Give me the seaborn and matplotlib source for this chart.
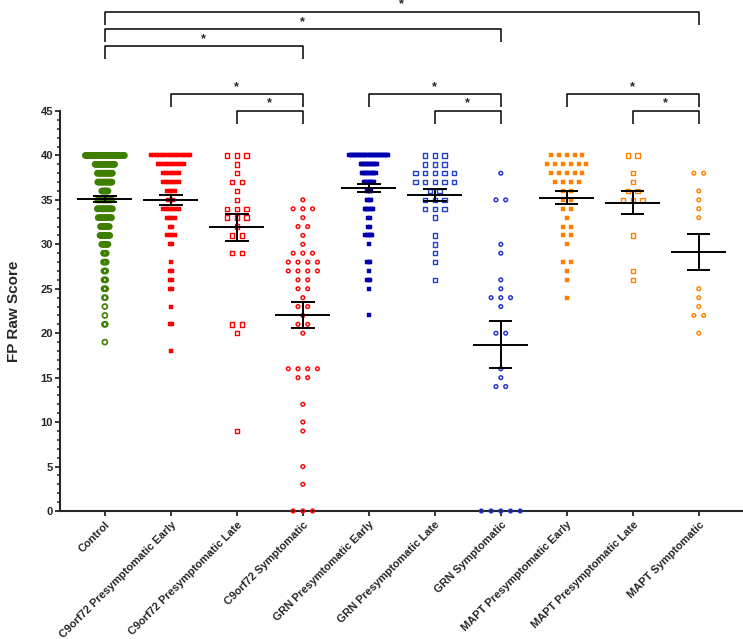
import numpy as np
import pandas as pd
import matplotlib.pyplot as plt
from matplotlib.markers import MarkerStyle
from matplotlib.ticker import MultipleLocator
import seaborn as sns

# group names as printed on the x axis (typo kept from the source figure)
groups = ['Control', 'C9orf72 Presymptomatic Early', 'C9orf72 Presymptomatic Late',
          'C9orf72 Symptomatic', 'GRN Presymtomatic Early', 'GRN Presymptomatic Late',
          'GRN Symptomatic', 'MAPT Presymptomatic Early', 'MAPT Presymptomatic Late',
          'MAPT Symptomatic']

# FP raw scores (score value -> number of subjects)
control_scores = [40, 39, 38, 37, 36, 35, 34, 33, 32, 31, 30, 29, 28, 27, 26, 25, 24, 23, 22, 21, 19]
control_counts = [45, 23, 18, 17, 8, 17, 18, 16, 11, 12, 8, 4, 4, 3, 3, 3, 2, 1, 1, 2, 1]

c9_early_scores = [40, 39, 38, 37, 36, 35, 34, 33, 32, 31, 30, 28, 27, 26, 25, 23, 21, 18]
c9_early_counts = [16, 11, 7, 7, 4, 3, 7, 4, 2, 4, 2, 1, 2, 2, 2, 1, 2, 1]

c9_late_scores = [40, 39, 38, 37, 36, 35, 34, 33, 32, 31, 29, 21, 20, 9]
c9_late_counts = [3, 1, 1, 2, 1, 1, 3, 3, 1, 2, 2, 2, 1, 1]

c9_symp_scores = [35, 34, 33, 32, 31, 30, 29, 28, 27, 26, 25, 24, 23, 22, 21, 20, 16, 15, 12, 10, 9, 5, 3, 0]
c9_symp_counts = [1, 3, 1, 2, 1, 1, 3, 4, 4, 2, 2, 1, 2, 1, 2, 1, 4, 2, 1, 1, 1, 1, 1, 3]

grn_early_scores = [40, 39, 38, 37, 36, 35, 34, 33, 32, 31, 30, 28, 27, 26, 25, 22]
grn_early_counts = [30, 13, 11, 8, 4, 4, 7, 2, 2, 6, 1, 3, 1, 3, 1, 1]

grn_late_scores = [40, 39, 38, 37, 36, 35, 34, 33, 31, 30, 29, 28, 26]
grn_late_counts = [3, 3, 5, 5, 2, 3, 3, 1, 1, 1, 1, 1, 1]

grn_symp_scores = [38, 35, 30, 29, 26, 25, 24, 23, 20, 16, 15, 14, 0]
grn_symp_counts = [1, 2, 1, 1, 1, 1, 3, 1, 2, 1, 1, 2, 5]

mapt_early_scores = [40, 39, 38, 37, 36, 35, 34, 33, 32, 31, 30, 28, 27, 26, 24]
mapt_early_counts = [5, 6, 5, 4, 2, 2, 2, 1, 2, 2, 1, 2, 1, 1, 1]

mapt_late_scores = [40, 38, 37, 36, 35, 31, 27, 26]
mapt_late_counts = [2, 1, 1, 2, 3, 1, 1, 1]

mapt_symp_scores = [38, 36, 35, 34, 33, 25, 24, 23, 22, 20]
mapt_symp_counts = [2, 1, 1, 1, 1, 1, 1, 1, 2, 1]

# significant comparisons (group index pairs)
comparisons = [(0, 9), (0, 6), (0, 3), (1, 3), (2, 3), (4, 6), (5, 6), (7, 9), (8, 9)]

data = [(control_scores, control_counts), (c9_early_scores, c9_early_counts),
        (c9_late_scores, c9_late_counts), (c9_symp_scores, c9_symp_counts),
        (grn_early_scores, grn_early_counts), (grn_late_scores, grn_late_counts),
        (grn_symp_scores, grn_symp_counts), (mapt_early_scores, mapt_early_counts),
        (mapt_late_scores, mapt_late_counts), (mapt_symp_scores, mapt_symp_counts)]

# marker style per group: (marker, filled, colour, size, edge width)
styles = [('o', False, '#3f7f00', 13, 1.2),
          ('s', True, '#ff0000', 8, 0.3),
          ('s', False, '#ff0000', 10, 1.0),
          ('o', False, '#ff0000', 7, 1.05),
          ('s', True, '#0000b0', 11, 0.3),
          ('s', False, '#2040d0', 10, 1.0),
          ('o', False, '#2030d0', 7, 1.05),
          ('s', True, '#ff8000', 10.5, 0.3),
          ('s', False, '#ff8000', 10, 1.0),
          ('o', False, '#ff8000', 7, 1.05)]

sns.set_style('ticks')
plt.rcParams['font.family'] = ['Liberation Sans', 'DejaVu Sans']
plt.rcParams['font.weight'] = 'bold'

fig = plt.figure(figsize=(7.43, 6.39), dpi=100)
ax = fig.add_axes([60 / 743, 1 - 511 / 639, 1 - 60 / 743, 400 / 639])

px = 1 / 65.9  # one pixel in category units
for i, (scores, counts) in enumerate(data):
    # GraphPad style spreading of tied values, squeezed if the widest row is too wide
    step = min(9.7, 39 / max(max(counts) - 1, 1)) * px
    xs, ys = [], []
    for v, n in zip(scores, counts):
        xs.extend(i + (np.arange(n) - (n - 1) / 2) * step)
        ys.extend([v] * n)
    df = pd.DataFrame({'x': xs, 'y': ys})
    marker, filled, color, size, lw = styles[i]
    if filled:
        sns.scatterplot(data=df, x='x', y='y', ax=ax, marker=marker, color=color,
                        edgecolor=color, s=size, linewidth=lw, clip_on=False, zorder=3)
    else:
        sns.scatterplot(data=df, x='x', y='y', ax=ax, marker=MarkerStyle(marker, fillstyle='none'),
                        color=color, s=size, linewidth=lw, clip_on=False, zorder=3)

    # mean +/- SEM
    arr = np.repeat(scores, counts).astype(float)
    m = arr.mean()
    sem = arr.std(ddof=1) / np.sqrt(len(arr))
    ax.hlines(m, i - 0.417, i + 0.417, color='black', lw=1.4, zorder=5)
    ax.vlines(i, m - sem, m + sem, color='black', lw=1.4, zorder=5)
    ax.hlines([m - sem, m + sem], i - 0.177, i + 0.177, color='black', lw=1.4, zorder=5)

ax.set_xlim(-0.68, 9.67)
ax.set_ylim(0, 45)
ax.yaxis.set_major_locator(MultipleLocator(5))
ax.yaxis.set_minor_locator(MultipleLocator(1))
ax.set_xticks(range(len(groups)))
ax.set_xticklabels(groups, rotation=45, ha='right', va='top', rotation_mode='anchor',
                   fontsize=7.9, fontweight='bold')
for lab in ax.get_yticklabels():
    lab.set_fontweight('bold')
ax.tick_params(axis='y', which='major', length=3.6, width=1.3, labelsize=8, pad=1.5)
ax.tick_params(axis='y', which='minor', length=2.2, width=1.1)
ax.tick_params(axis='x', which='major', length=3.6, width=1.3, pad=2.5)
ax.set_xlabel('')
ax.set_ylabel('FP Raw Score', fontsize=11, fontweight='bold')
ax.yaxis.set_label_coords(-0.057, 0.5)
for side in ['top', 'right']:
    ax.spines[side].set_visible(False)
for side in ['left', 'bottom']:
    ax.spines[side].set_linewidth(1.5)

# significance brackets drawn above the plotting area
levels = {(0, 9): 56.14, (0, 6): 54.22, (0, 3): 52.31}
for a, b in comparisons:
    if (a, b) in levels:
        y = levels[(a, b)]
    elif b - a == 1:
        y = 45.0
    else:
        y = 46.91
    drop = 1.5
    ax.plot([a, a, b, b], [y - drop, y, y, y - drop], color='black', lw=1.1,
            clip_on=False, solid_capstyle='butt')
    ax.text((a + b) / 2, y + 0.15, '*', ha='center', va='bottom', fontsize=9,
            fontweight='bold', clip_on=False)

fig.savefig('out.png', dpi=100)
